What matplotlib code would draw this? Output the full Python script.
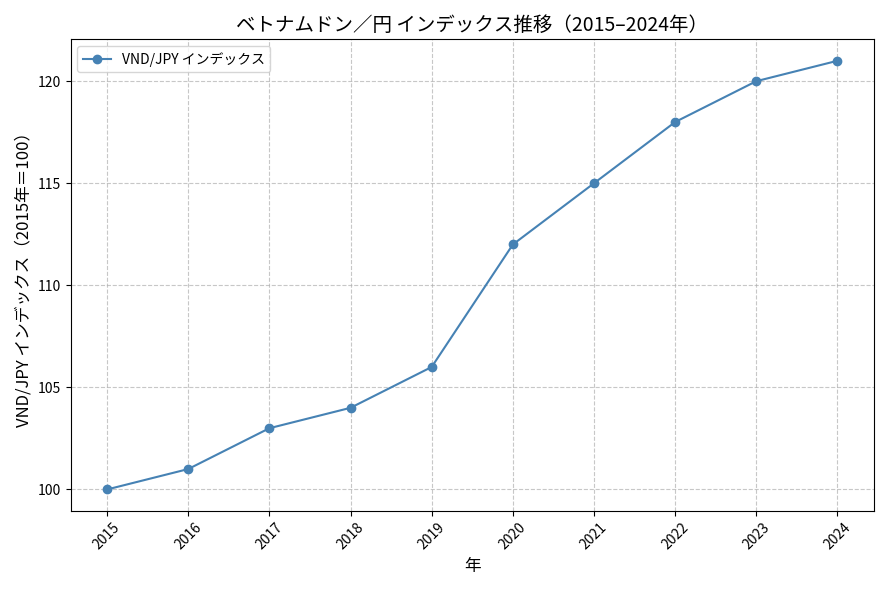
import matplotlib
matplotlib.use("Agg")
import matplotlib.pyplot as plt

plt.rcParams['font.family'] = 'Noto Sans CJK JP'

years = [2015, 2016, 2017, 2018, 2019, 2020, 2021, 2022, 2023, 2024]
index_values = [100, 101, 103, 104, 106, 112, 115, 118, 120, 121]

fig, ax = plt.subplots(figsize=(8.89, 5.90), dpi=100)
ax.plot(years, index_values, marker='o', color='steelblue', label='VND/JPY インデックス')
ax.set_title('ベトナムドン／円 インデックス推移（2015–2024年）', fontsize=14)
ax.set_xlabel('年', fontsize=12)
ax.set_ylabel('VND/JPY インデックス（2015年＝100）', fontsize=12)
ax.set_xticks(years)
ax.set_xticklabels([str(y) for y in years], rotation=45)
ax.grid(True, linestyle='--', alpha=0.7)
ax.legend(loc='upper left')
fig.tight_layout()
fig.savefig('out.png')
